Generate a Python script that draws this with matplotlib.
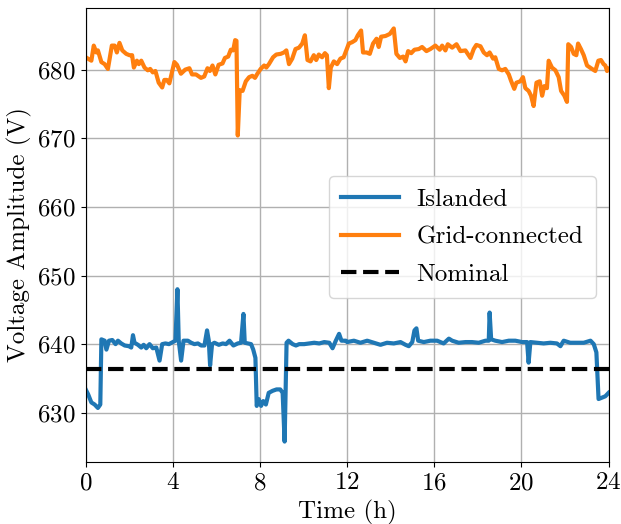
import matplotlib
matplotlib.use("Agg")
import matplotlib.pyplot as plt

plt.rcParams.update({
    "font.family": "serif",
    "font.serif": ["cmr10"],
    "mathtext.fontset": "cm",
    "axes.unicode_minus": False,
    "axes.formatter.use_mathtext": True,
    "font.size": 18,
})

# Time axis (hours) and measured voltage amplitude (V)
t_grid = [0, 0.26, 0.37, 0.49, 0.56, 0.72, 0.87, 1.02, 1.20, 1.33, 1.43, 1.55, 1.68, 1.86,
          2.01, 2.13, 2.21, 2.35, 2.44, 2.55, 2.70, 2.85, 2.96, 3.08, 3.20, 3.35, 3.51, 3.61,
          3.72, 3.84, 3.96, 4.07, 4.19, 4.37, 4.57, 4.76, 4.88, 5.06, 5.29, 5.44, 5.59, 5.70,
          5.82, 5.95, 6.10, 6.28, 6.39, 6.54, 6.66, 6.77, 6.86, 6.92, 6.98, 7.07, 7.20, 7.35,
          7.50, 7.65, 7.77, 7.88, 8.03, 8.19, 8.29, 8.41, 8.60, 8.75, 8.95, 9.10, 9.21, 9.33,
          9.48, 9.63, 9.79, 9.94, 10.06, 10.18, 10.32, 10.47, 10.58, 10.70, 10.85, 10.98,
          11.07, 11.16, 11.25, 11.39, 11.54, 11.69, 11.84,
          12.08, 12.23, 12.38, 12.49, 12.64, 12.73, 12.89, 13.04, 13.19, 13.35, 13.45, 13.56,
          13.76, 13.96, 14.14, 14.26, 14.42, 14.57, 14.68, 14.80, 14.94, 15.09, 15.29, 15.44,
          15.64, 15.82, 16.05, 16.25, 16.36, 16.51, 16.62, 16.82, 17.02, 17.20, 17.43, 17.66,
          17.81, 17.93, 18.12, 18.27, 18.42, 18.54, 18.70, 18.80, 18.96, 19.11, 19.26, 19.42,
          19.52, 19.67, 19.77, 19.95, 20.07, 20.18, 20.33, 20.44, 20.56, 20.69, 20.84, 20.95,
          21.05, 21.17, 21.25, 21.40, 21.56, 21.71, 21.82, 21.97, 22.09, 22.15, 22.28, 22.40,
          22.52, 22.60, 22.73, 22.86, 23.01, 23.24, 23.39, 23.53, 23.65, 23.77, 23.85, 23.93,
          24.0]
v_grid = [681.8, 681.3, 683.5, 682.5, 682.8, 681.1, 680.8, 680.1, 683.5, 683.5, 682.5, 683.9,
          682.8, 682.3, 682.1, 682.1, 680.3, 681.3, 680.8, 681.3, 680.3, 679.9, 680.1, 679.6,
          679.8, 678.1, 677.4, 678.5, 678.5, 678.0, 679.6, 681.1, 680.7, 679.4, 680.0, 680.2,
          679.3, 679.3, 678.8, 679.0, 680.2, 679.8, 680.6, 679.3, 680.7, 680.9, 681.7, 681.9,
          682.9, 682.8, 684.3, 684.2, 670.4, 677.0, 676.9, 678.3, 678.9, 679.1, 678.8, 679.4,
          680.1, 680.6, 680.3, 680.8, 681.8, 682.2, 682.3, 682.5, 682.8, 680.8, 681.6, 683.0,
          683.2, 683.8, 685.0, 681.4, 681.2, 682.1, 681.4, 682.2, 681.8, 682.4, 682.1, 677.3,
          680.3, 681.2, 680.8, 681.6, 681.8,
          683.8, 684.0, 684.3, 685.0, 685.7, 682.5, 682.5, 682.3, 683.8, 684.5, 683.3, 684.8,
          684.9, 685.2, 686.0, 682.3, 681.7, 681.9, 681.2, 682.7, 682.4, 682.9, 683.0, 683.3,
          682.7, 683.0, 683.5, 682.9, 683.5, 682.8, 683.7, 683.2, 683.7, 682.7, 682.8, 681.7,
          683.0, 683.6, 683.4, 682.5, 682.1, 682.5, 681.6, 681.8, 680.1, 679.9, 680.1, 679.3,
          678.4, 677.2, 678.1, 678.3, 678.9, 677.3, 676.9, 676.2, 674.7, 678.1, 678.3, 676.2,
          677.6, 677.3, 681.3, 680.3, 679.9, 678.9, 676.9, 676.2, 675.3, 683.7, 683.3, 682.3,
          682.1, 683.8, 683.0, 682.1, 680.6, 680.1, 679.8, 681.3, 681.4, 680.8, 680.6, 679.8,
          680.1]

t_island = [0, 0.11, 0.26, 0.41, 0.56, 0.67, 0.72, 0.87, 0.95, 1.07, 1.22, 1.37, 1.48, 1.63,
            1.79, 1.98, 2.09, 2.17, 2.24, 2.40, 2.55, 2.66, 2.78, 2.93, 3.08, 3.24, 3.39, 3.51,
            3.66, 3.82, 4.00, 4.12, 4.21, 4.27, 4.38, 4.49, 4.69, 4.84, 4.99, 5.15, 5.30, 5.45,
            5.57, 5.65, 5.71, 5.80, 5.91, 6.11, 6.29, 6.44, 6.60, 6.78, 6.98, 7.13, 7.24, 7.30,
            7.44, 7.59, 7.69, 7.79, 7.85, 7.94, 8.05, 8.15, 8.27, 8.40, 8.58, 8.76, 8.93, 9.04,
            9.13, 9.22, 9.31, 9.50, 9.65, 9.80, 10.03, 10.26, 10.49, 10.72, 10.95, 11.18, 11.33,
            11.48, 11.63, 11.74, 11.94,
            12.0, 12.31, 12.61, 12.92, 13.22, 13.53, 13.83, 14.14, 14.45, 14.68, 14.83, 14.99,
            15.09, 15.18, 15.26, 15.52, 15.82, 16.13, 16.43, 16.67, 16.82, 17.12, 17.43, 17.73,
            18.04, 18.35, 18.50, 18.54, 18.61, 18.80, 19.11, 19.42, 19.72, 20.03, 20.26, 20.33,
            20.41, 20.72, 21.02, 21.33, 21.63, 21.79, 21.94, 22.24, 22.55, 22.86, 23.17, 23.32,
            23.44, 23.54, 23.70, 23.85, 24.0]
v_island = [633.4, 632.7, 631.5, 631.2, 630.7, 631.2, 640.7, 640.5, 639.2, 640.5, 640.6, 640.0,
            640.5, 640.1, 639.8, 639.7, 639.5, 641.3, 640.2, 639.9, 639.5, 639.9, 639.4, 640.0,
            639.4, 639.5, 637.6, 640.0, 640.1, 640.0, 640.3, 640.5, 648.0, 640.5, 637.6, 640.5,
            640.5, 640.2, 640.0, 640.1, 639.8, 639.8, 642.0, 640.5, 636.9, 640.0, 640.2, 639.9,
            640.1, 640.0, 640.5, 639.8, 640.1, 640.2, 644.4, 640.2, 640.1, 640.0, 639.2, 638.0,
            631.0, 632.0, 631.0, 631.7, 631.2, 632.9, 633.2, 633.4, 633.4, 632.9, 625.8, 640.2,
            640.5, 640.0, 639.8, 640.0, 640.0, 640.1, 640.2, 640.1, 640.3, 640.2, 639.4, 640.5,
            641.5, 640.5, 640.5,
            640.3, 640.5, 640.2, 640.5, 640.2, 639.9, 640.2, 640.1, 640.3, 639.9, 639.7, 640.3,
            642.0, 642.3, 640.5, 640.3, 640.5, 640.5, 640.1, 640.8, 640.5, 640.2, 640.3, 640.3,
            640.2, 640.5, 640.5, 644.6, 640.7, 640.5, 640.3, 640.5, 640.5, 640.3, 640.3, 637.3,
            640.3, 640.2, 640.1, 640.2, 640.1, 639.7, 640.5, 640.2, 640.2, 640.2, 640.5, 640.0,
            638.8, 632.0, 632.2, 632.4, 632.9]

v_nominal = 636.4
x_ticks = [0, 4, 8, 12, 16, 20, 24]
y_ticks = [630, 640, 650, 660, 670, 680]

fig = plt.figure(figsize=(6.21, 5.24), dpi=100)
ax = fig.add_axes([0.138, 0.118, 0.842, 0.867])

ax.plot(t_island, v_island, color="#1f77b4", lw=3, label="Islanded")
ax.plot(t_grid, v_grid, color="#ff7f0e", lw=3, label="Grid-connected")
ax.axhline(v_nominal, color="black", lw=3, ls="--", label="Nominal")

ax.set_xlim(0, 24)
ax.set_ylim(622.8, 689.0)
ax.set_xticks(x_ticks)
ax.set_yticks(y_ticks)
ax.grid(True, color="#b0b0b0", lw=1)
ax.set_axisbelow(True)
ax.set_xlabel("Time (h)")
ax.set_ylabel("Voltage Amplitude (V)")

ax.legend(loc="upper right", bbox_to_anchor=(0.975, 0.630), borderaxespad=0,
          handlelength=2.3, labelspacing=0.6, borderpad=0.5, handletextpad=0.7,
          fontsize=18)

fig.savefig("out.png", dpi=100)
